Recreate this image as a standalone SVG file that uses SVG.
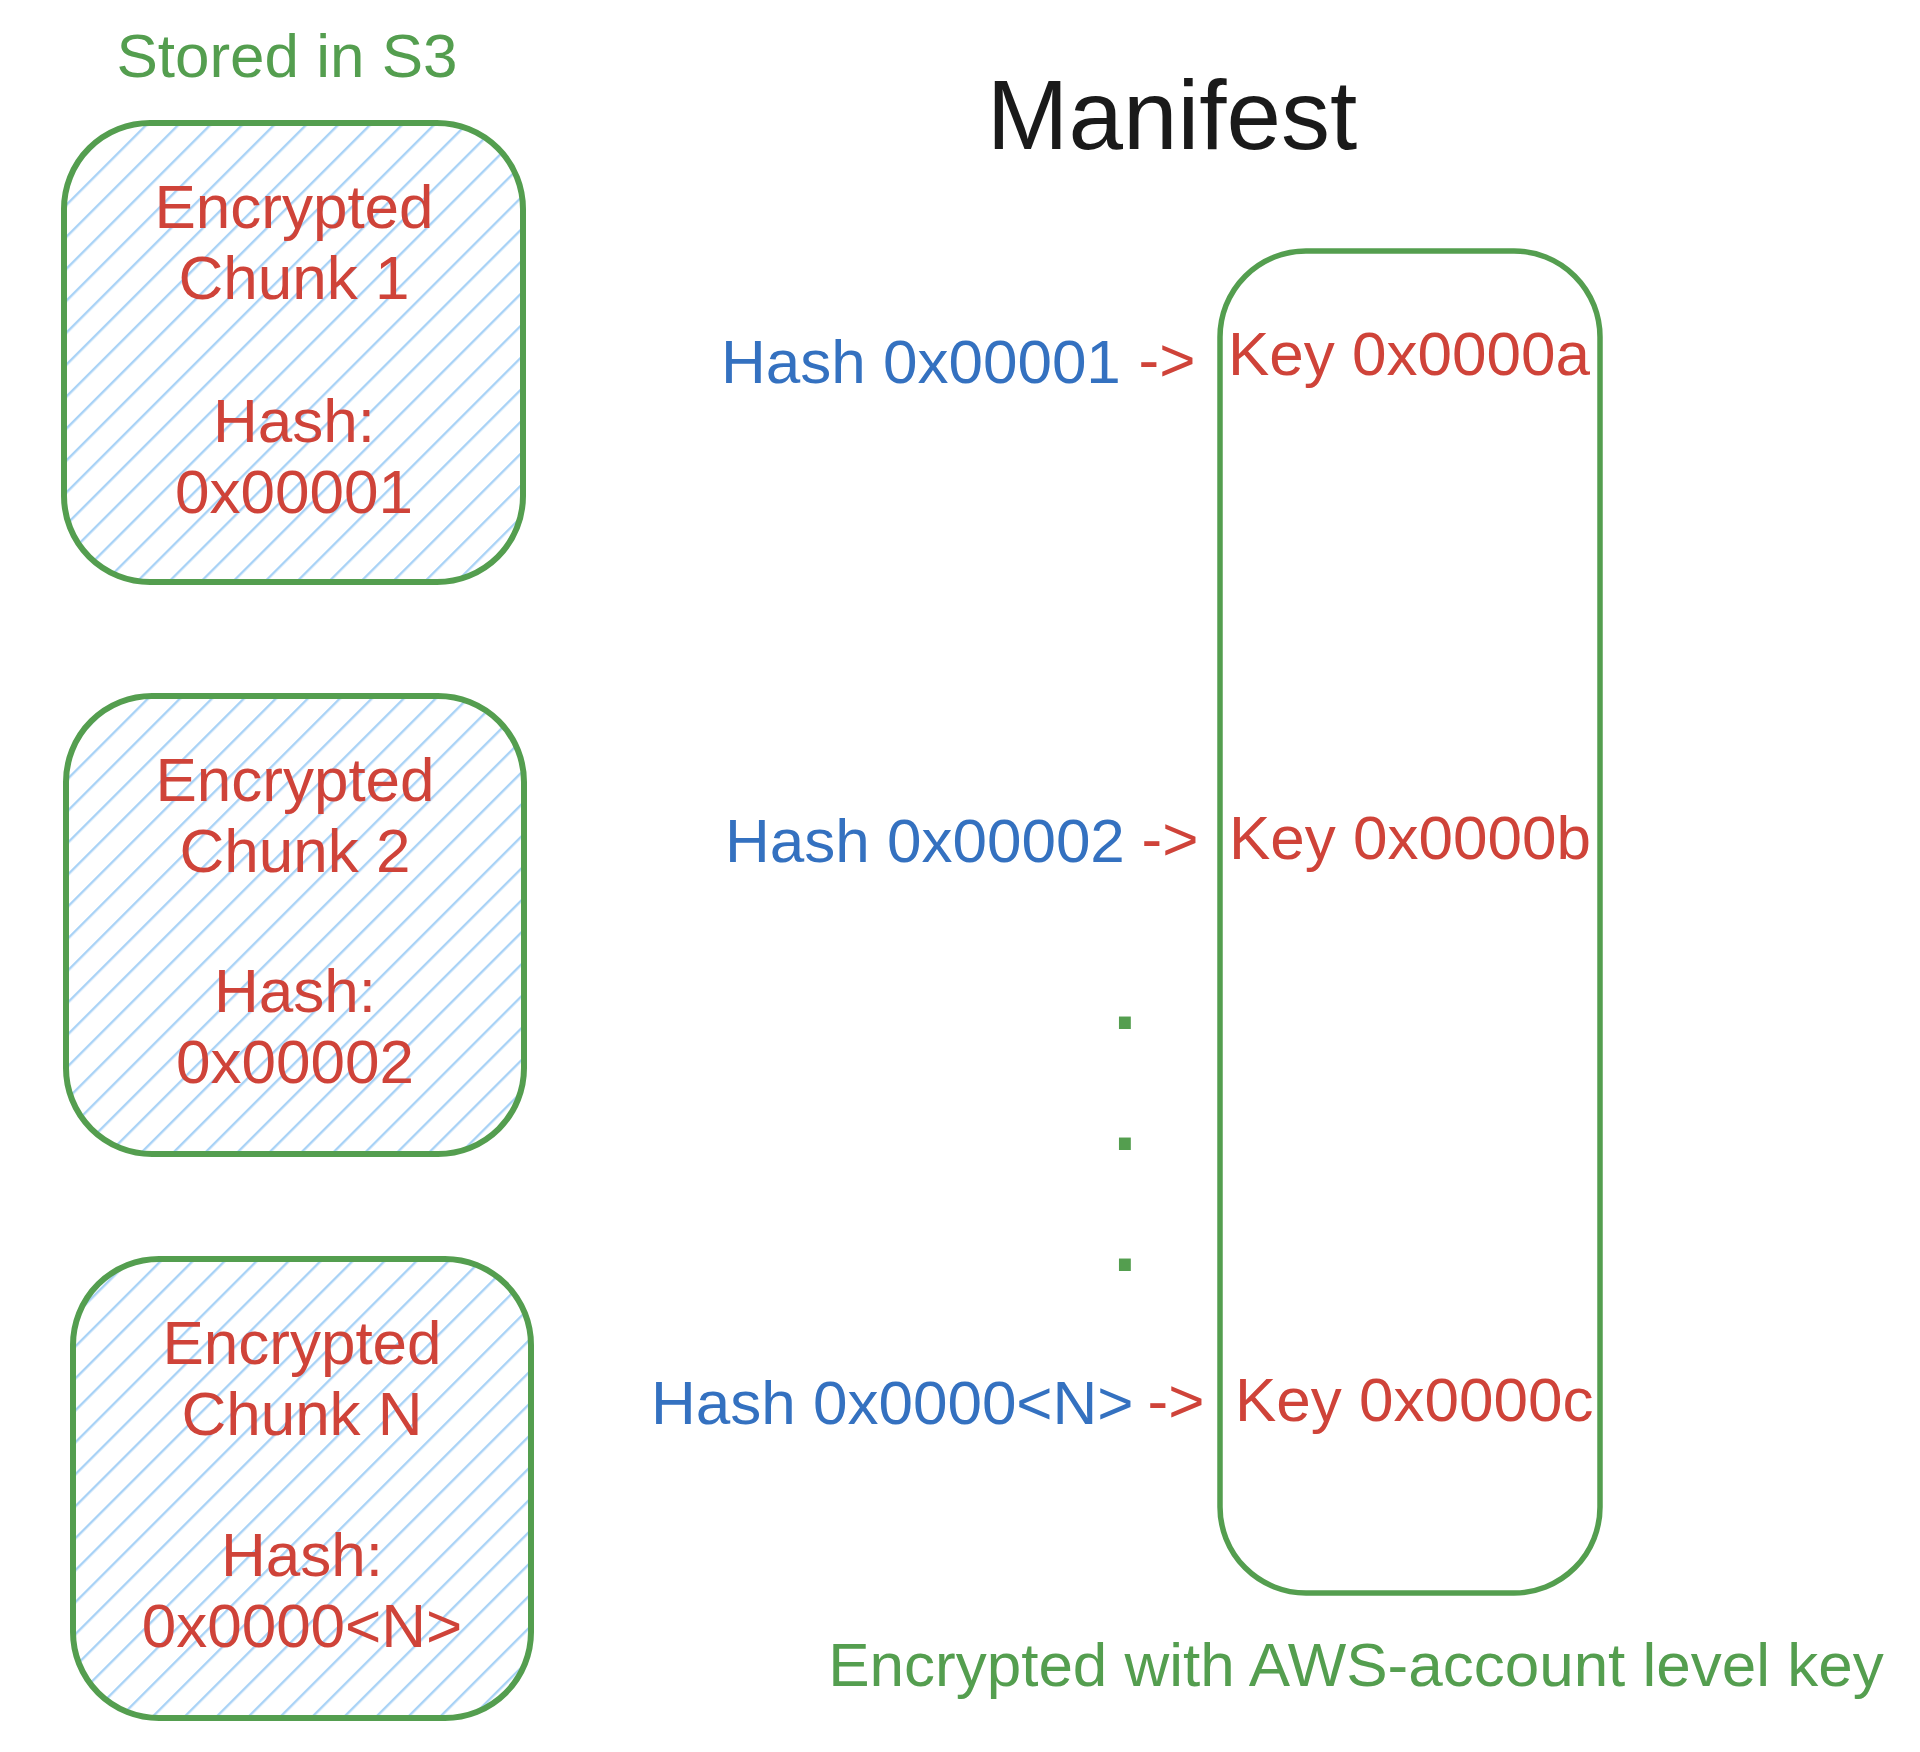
<svg xmlns="http://www.w3.org/2000/svg" width="1920" height="1752" viewBox="0 0 1920 1752">
<defs>
<pattern id="hatch" patternUnits="userSpaceOnUse" width="22.6" height="22.6" patternTransform="rotate(45)">
<line x1="11" y1="0" x2="11" y2="22.6" stroke="#a8d2f6" stroke-width="2.4"/>
</pattern>
</defs>
<style>
text{font-family:"Liberation Sans",Arial,Helvetica,sans-serif;font-size:62px}
.chunk{fill:url(#hatch);stroke:#549e4f;stroke-width:6}
.mbox{fill:none;stroke:#549e4f;stroke-width:5.5}
.red{fill:#cf4339}
.blue{fill:#3471c0}
.green{fill:#549e4f}
.c{text-anchor:middle}
.e{text-anchor:end}
.dot{font-weight:bold;font-size:84px}
</style>
<rect width="1920" height="1752" fill="#ffffff"/>
<text class="green c" x="287" y="77">Stored in S3</text>
<text class="c" x="1172" y="149" style="font-size:98px" fill="#1a1a1a">Manifest</text>

<g id="chunk1">
<rect class="chunk" x="64" y="123" width="459" height="459" rx="86" ry="86"/>
<text class="red c" x="294" y="228">Encrypted</text>
<text class="red c" x="294" y="299">Chunk 1</text>
<text class="red c" x="294" y="442">Hash:</text>
<text class="red c" x="294" y="513">0x00001</text>
</g>
<g id="chunk2">
<rect class="chunk" x="66" y="696" width="458" height="458" rx="86" ry="86"/>
<text class="red c" x="295" y="801">Encrypted</text>
<text class="red c" x="295" y="872">Chunk 2</text>
<text class="red c" x="295" y="1012">Hash:</text>
<text class="red c" x="295" y="1083">0x00002</text>
</g>
<g id="chunkN">
<rect class="chunk" x="73" y="1259" width="458" height="459" rx="86" ry="86"/>
<text class="red c" x="302" y="1364">Encrypted</text>
<text class="red c" x="302" y="1435">Chunk N</text>
<text class="red c" x="302" y="1576">Hash:</text>
<text class="red c" x="302" y="1647">0x0000&lt;N&gt;</text>
</g>

<g id="manifest">
<rect class="mbox" x="1220" y="251" width="380" height="1342" rx="86" ry="86"/>
<text class="green c" x="1356" y="1686">Encrypted with AWS-account level key</text>
</g>

<g id="connectors">
<g id="row1">
<text class="blue" x="721" y="383">Hash 0x00001</text>
<text class="red c" x="1167" y="381">-&gt;</text>
<text class="red" x="1228" y="375">Key 0x0000a</text>
</g>
<g id="row2">
<text class="blue" x="725" y="862">Hash 0x00002</text>
<text class="red c" x="1170" y="860">-&gt;</text>
<text class="red" x="1229" y="859">Key 0x0000b</text>
</g>
<g id="dots">
<text class="green c dot" x="1125" y="1029">.</text>
<text class="green c dot" x="1125" y="1150">.</text>
<text class="green c dot" x="1125" y="1271">.</text>
</g>
<g id="rowN">
<text class="blue" x="651" y="1424">Hash 0x0000&lt;N&gt;</text>
<text class="red c" x="1176" y="1422">-&gt;</text>
<text class="red" x="1235" y="1421">Key 0x0000c</text>
</g>
</g>
</svg>
